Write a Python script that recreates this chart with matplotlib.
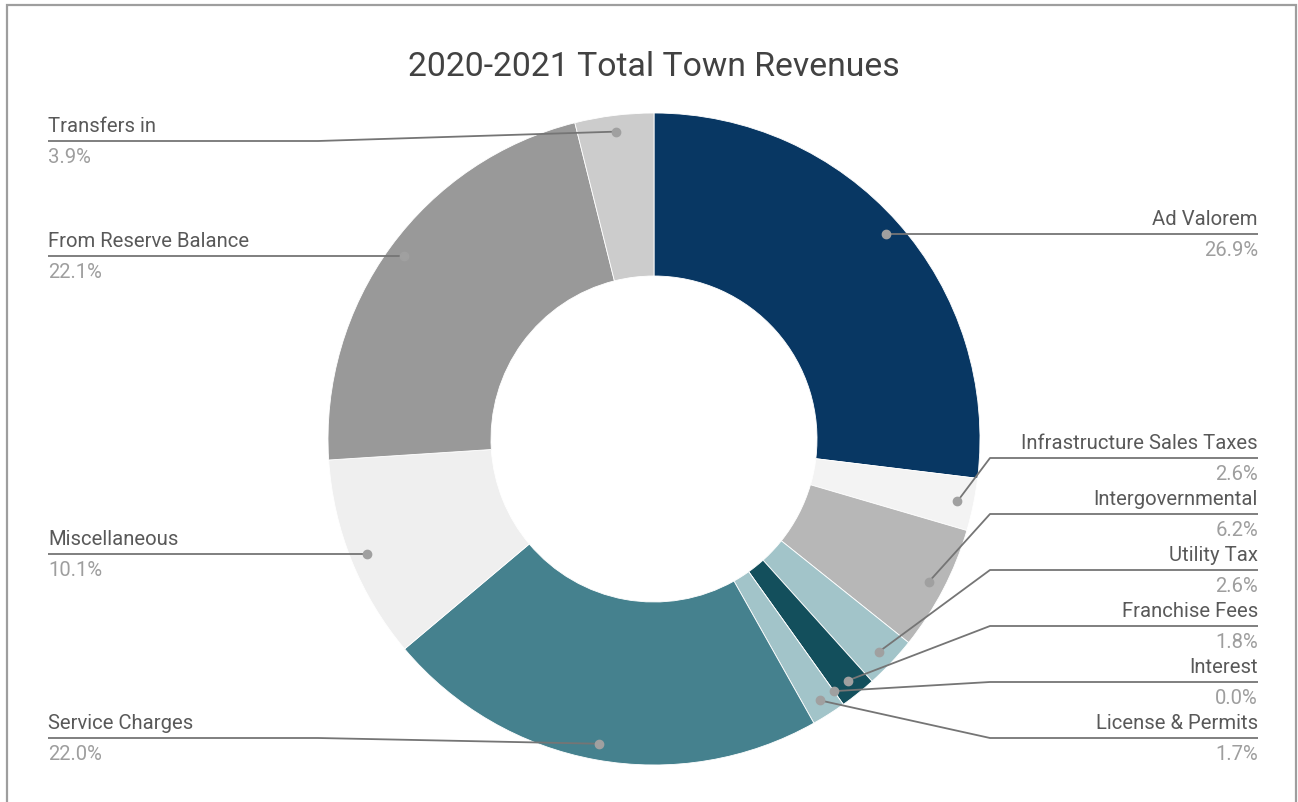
import numpy as np
import matplotlib.pyplot as plt

plt.rcParams['font.family'] = ['Roboto', 'DejaVu Sans']

# revenue shares, clockwise from 12 o'clock
labels = ['Ad Valorem', 'Infrastructure Sales Taxes', 'Intergovernmental',
          'Utility Tax', 'Franchise Fees', 'Interest', 'License & Permits',
          'Service Charges', 'Miscellaneous', 'From Reserve Balance', 'Transfers in']
shares = [26.9, 2.6, 6.2, 2.6, 1.8, 0.0, 1.7, 22.0, 10.1, 22.1, 3.9]
colors = ['#083763', '#f3f3f3', '#b7b7b7', '#a2c4c9', '#134f5c', '#0c343d',
          '#a2c4c9', '#45818e', '#efefef', '#999999', '#cccccc']

W, H = 1298, 802
fig = plt.figure(figsize=(W / 100, H / 100), dpi=100)
ax = fig.add_axes([0, 0, 1, 1])

cx, cy = 654, H - 439
R = 326
ax.pie(shares, colors=colors, startangle=90, counterclock=False,
       center=(cx, cy), radius=R, normalize=True,
       wedgeprops=dict(width=R / 2, edgecolor='white', linewidth=0.6))

ax.set_xlim(0, W)
ax.set_ylim(0, H)
ax.set_aspect('equal')
ax.axis('off')

# outer frame
ax.plot([7, 7, 1296, 1296], [-5, H - 5, H - 5, -5], color='#9e9e9e', lw=1.6,
        clip_on=False, solid_joinstyle='miter')

ax.text(cx, H - 67, '2020-2021 Total Town Revenues', ha='center', va='center',
        fontsize=24.3, color='#424242')

# dot positions at the middle of each wedge
total = sum(shares)
cum = np.cumsum([0] + shares[:-1])
mid = (cum + np.array(shares) / 2) / total * 2 * np.pi
rd = 0.95 * R
dx = cx + rd * np.sin(mid)
dy = cy + rd * np.cos(mid)

# spread label rows so they don't collide
gap = 56
top, bottom = H - 141, H - 738
rows = {}
for side in ('right', 'left'):
    idx = [i for i in range(len(labels)) if (dx[i] >= cx) == (side == 'right')]
    idx.sort(key=lambda i: -dy[i])
    ys = [min(dy[i], top) for i in idx]
    for k in range(1, len(ys)):
        ys[k] = min(ys[k], ys[k - 1] - gap)
    if ys and ys[-1] < bottom:
        ys[-1] = bottom
        for k in range(len(ys) - 2, -1, -1):
            ys[k] = max(ys[k], ys[k + 1] + gap)
    for i, y in zip(idx, ys):
        rows[i] = y

for i, name in enumerate(labels):
    y = rows[i]
    if dx[i] >= cx:
        ex, tx, ha = cx + 336, 1258, 'right'
    else:
        ex, tx, ha = cx - 336, 48, 'left'
    ax.plot([dx[i], ex, tx], [dy[i], y, y], color='#757575', lw=1.3,
            solid_capstyle='butt', zorder=3)
    ax.plot(dx[i], dy[i], 'o', ms=6, color='#a0a0a0', zorder=4)
    ax.text(tx, y + 5, name, ha=ha, va='bottom', fontsize=14.6, color='#595959')
    ax.text(tx, y - 7, f'{shares[i]:.1f}%', ha=ha, va='top', fontsize=14.6,
            color='#9e9e9e')

fig.savefig('out.png', dpi=100, facecolor='white')
